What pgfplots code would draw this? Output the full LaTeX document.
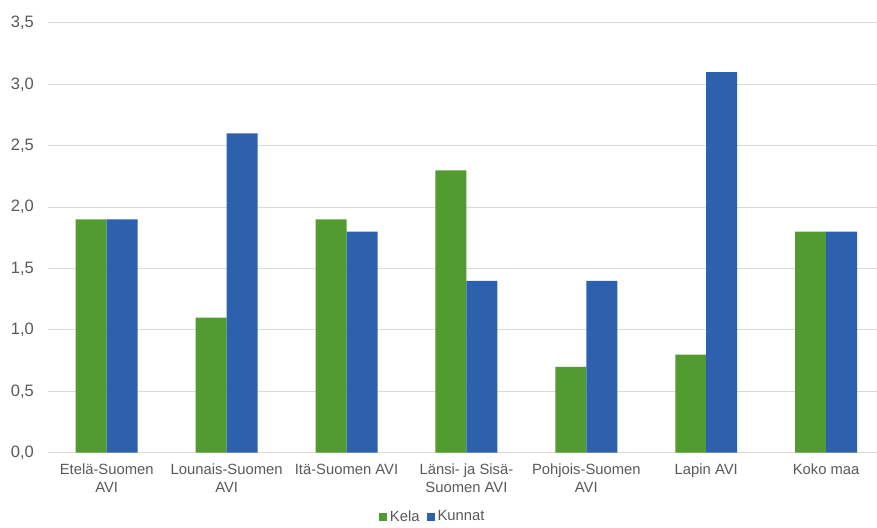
\documentclass[border=0pt]{standalone}
\usepackage{pgfplots}
\pgfplotsset{compat=1.18}
\usepackage{fontspec}
\setmainfont{Liberation Sans}
\definecolor{kela}{HTML}{529B31}
\definecolor{kunnat}{HTML}{2E61AD}
\definecolor{txt}{HTML}{595959}
\definecolor{gridc}{HTML}{D9D9D9}
\begin{document}
\fontsize{14.8}{19}\selectfont
\begin{tikzpicture}
\begin{axis}[
    name=ax,
    scale only axis,
    width=829pt, height=430pt,
    ybar=0pt, bar width=31pt,
    xmin=-0.49, xmax=6.42,
    ymin=0, ymax=3.5,
    ytick={0,0.5,...,3.5},
    xtick={0,...,6},
    xticklabels={{Etelä-Suomen\\AVI},{Lounais-Suomen\\AVI},{Itä-Suomen AVI},{Länsi- ja Sisä-\\Suomen AVI},{Pohjois-Suomen\\AVI},{Lapin AVI},{Koko maa}},
    xticklabel style={align=center, text=txt, yshift=-6pt, font=\fontsize{14.8}{17.5}\selectfont},
    yticklabel style={text=txt, xshift=-9pt, font=\fontsize{16.5}{19}\selectfont},
    /pgf/number format/.cd, fixed, fixed zerofill, precision=1, use comma, assume math mode=true,
    /pgfplots/.cd,
    ymajorgrids, xmajorgrids=false,
    major grid style={draw=gridc, line width=1pt},
    axis x line*=bottom, axis y line*=left,
    x axis line style={draw=gridc, line width=1pt, -},
    y axis line style={draw=none},
    major tick length=0pt,
    legend columns=2,
    legend style={draw=none, at={(0.465,-0.149)}, anchor=center,
        font=\fontsize{14.8}{19}\selectfont, text=txt,
        nodes={inner xsep=3pt},
        /tikz/every even column/.append style={column sep=4pt}},
    legend image code/.code={\fill[#1] (0pt,-4pt) rectangle (8pt,4pt);},
]
\addplot[fill=kela, draw=none] coordinates {(0,1.9) (1,1.1) (2,1.9) (3,2.3) (4,0.7) (5,0.8) (6,1.8)};
\addplot[fill=kunnat, draw=none] coordinates {(0,1.9) (1,2.6) (2,1.8) (3,1.4) (4,1.4) (5,3.1) (6,1.8)};
\legend{Kela, Kunnat}
\end{axis}
\path[use as bounding box] ([xshift=-48pt,yshift=-72pt]ax.south west) rectangle ([yshift=23pt]ax.north east);
\end{tikzpicture}
\end{document}
